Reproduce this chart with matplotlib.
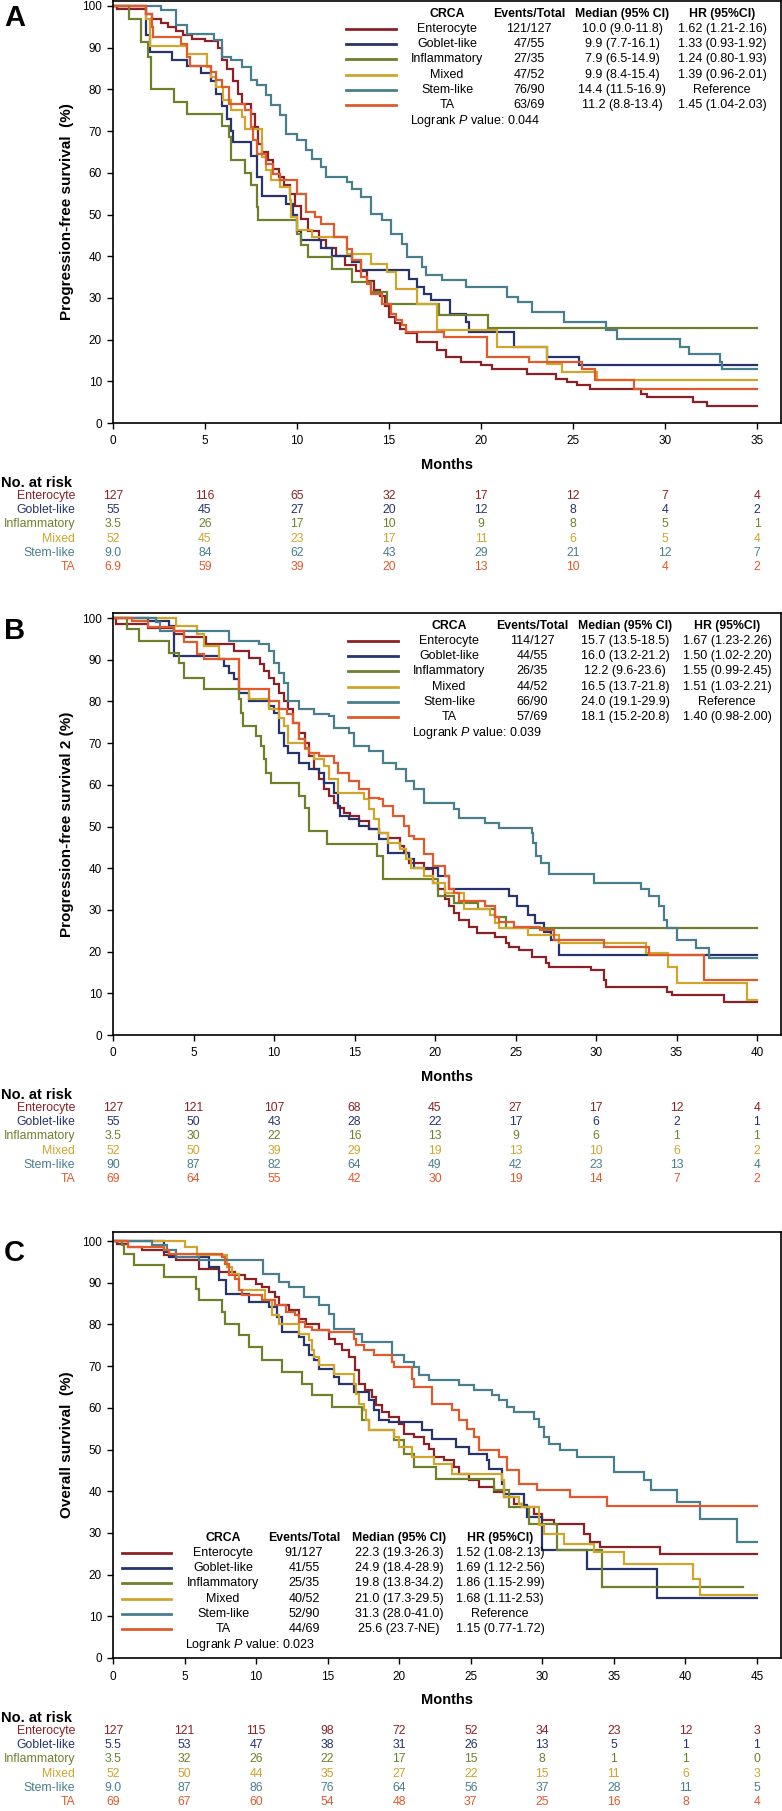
import matplotlib.pyplot as plt
from matplotlib.lines import Line2D
from matplotlib.transforms import blended_transform_factory

plt.rcParams['font.family'] = ['Liberation Sans', 'DejaVu Sans']
plt.rcParams['mathtext.fontset'] = 'custom'
plt.rcParams['mathtext.it'] = 'Liberation Sans:italic'
plt.rcParams['mathtext.rm'] = 'Liberation Sans'

# ---- data -------------------------------------------------------------
groups = ['Enterocyte', 'Goblet-like', 'Inflammatory', 'Mixed', 'Stem-like', 'TA']
colors = ['#8b2126', '#26346b', '#6e802c', '#cfa52c', '#497e8c', '#df5a2c']

# Panel A: progression-free survival, (month, % surviving) at each drop
pfs_enterocyte = [(0.2, 99.2), (1.8, 98), (2.1, 97), (2.6, 96), (3.0, 95), (3.4, 94), (3.8, 93), (4.3, 92),
                  (5.0, 91.5), (5.7, 90), (5.9, 87), (6.2, 85), (6.5, 82), (6.8, 79), (7.0, 76.5), (7.5, 74),
                  (7.7, 71), (7.9, 67), (8.1, 65), (8.4, 63), (8.7, 61), (9.0, 59), (9.3, 57), (9.6, 55),
                  (9.9, 52), (10.2, 49), (10.6, 46), (11.2, 44), (11.6, 42), (12.1, 40), (12.6, 38),
                  (13.2, 36.5), (13.8, 34), (14.2, 32), (14.5, 30.5), (14.8, 28), (15.0, 25.5), (15.3, 24),
                  (15.6, 22.5), (15.9, 21.5), (16.5, 19.5), (17.6, 17.4), (18.1, 15.8), (18.9, 14.6),
                  (20.0, 13.8), (20.6, 13.0), (22.5, 11.8), (24.1, 10.6), (24.7, 9.8), (25.2, 9.0),
                  (25.9, 8.2), (28.7, 7.0), (29.0, 6.2), (31.5, 5.0), (32.3, 4.0)]
pfs_goblet = [(1.8, 93), (2.0, 89), (3.2, 87), (4.0, 85.5), (4.8, 84), (5.3, 82), (5.6, 79), (5.9, 76),
              (6.2, 73), (6.4, 70), (6.5, 67.5), (7.5, 64), (7.8, 59), (8.1, 54.5), (9.4, 52.6), (9.8, 50),
              (10.0, 46), (10.2, 44), (11.3, 42), (11.9, 40), (13.0, 38.6), (13.5, 36.6), (16.1, 34.6),
              (16.5, 32.6), (16.9, 31), (17.3, 29.4), (18.3, 26.2), (19.2, 24.2), (19.35, 21.8),
              (21.8, 18.2), (23.6, 15.8), (25.3, 13.8)]
pfs_inflammatory = [(0.85, 97), (1.5, 91.4), (1.9, 87.8), (2.05, 80), (3.3, 77), (4.0, 74.2), (5.9, 71.2),
                    (6.3, 68.6), (6.4, 63), (7.2, 60), (7.5, 57), (7.8, 51.8), (7.9, 48.6), (10.0, 45.4),
                    (10.2, 42.6), (10.6, 39.8), (11.9, 37), (13.0, 33.8), (14.0, 31.4), (14.9, 28.6),
                    (17.7, 25.8), (20.4, 22.9)]
pfs_mixed = [(1.8, 97), (2.0, 90.5), (4.0, 88.6), (5.1, 85.4), (5.3, 83), (5.6, 80.6), (6.0, 77.4), (6.4, 75),
             (7.0, 73.4), (7.2, 70.6), (8.1, 63.8), (8.3, 60.6), (8.6, 58.2), (9.1, 56.6), (9.6, 53.4),
             (9.7, 49.4), (10.0, 46.2), (10.8, 44.6), (12.7, 40.6), (14.0, 38.2), (14.9, 36.2), (15.4, 32.2),
             (16.5, 28.6), (17.6, 22.2), (20.85, 18.2), (23.6, 14.2), (24.4, 12.2), (26.3, 10.2)]
pfs_stem = [(2.6, 99), (3.4, 95.4), (4.0, 93.4), (5.5, 91.8), (5.9, 87.8), (6.4, 87), (7.0, 85.4), (7.5, 82.2),
            (7.8, 81), (8.3, 78.6), (8.6, 76.2), (9.1, 73.8), (9.4, 69.4), (10.0, 67.8), (10.5, 65.4),
            (10.8, 63.4), (11.3, 61.4), (11.6, 59), (12.7, 57.8), (13.0, 56.2), (13.5, 54.2), (14.0, 50.2),
            (14.6, 48.6), (15.1, 45.4), (15.7, 43), (16.0, 39.8), (16.8, 37.4), (17.0, 35.4), (17.9, 34.2),
            (19.2, 32.6), (21.4, 30.2), (22.0, 29), (22.75, 26.6), (24.5, 24.2), (26.8, 22.2), (27.4, 20.2),
            (30.8, 18.2), (31.3, 16.6), (33.0, 14.6), (33.1, 13)]
pfs_ta = [(1.8, 98), (2.1, 95), (2.2, 92.6), (3.7, 91), (4.0, 87.8), (4.2, 85.6), (5.3, 84.2), (5.6, 82.2),
          (5.9, 80.6), (6.3, 76.6), (7.2, 75), (7.5, 71), (7.6, 67.8), (7.8, 64.6), (8.3, 62.2), (8.7, 59.8),
          (9.1, 58.2), (10.0, 55), (10.5, 50.6), (11.0, 49.4), (11.3, 47.8), (12.0, 44.6), (12.7, 41.8),
          (13.0, 39), (13.5, 35), (13.8, 33.4), (14.0, 31), (14.6, 28.6), (15.1, 26.2), (15.4, 24.6),
          (15.7, 23.4), (15.9, 21.8), (18.0, 20.6), (20.3, 15.8), (22.6, 14.6), (25.5, 13), (26.2, 10.2),
          (28.3, 8.2)]
pfs_ends = [35, 35, 35, 35, 35, 35]

# Panel B: progression-free survival 2
pfs2_enterocyte = [(0.2, 98.6), (2.2, 97.5), (3.8, 96.2), (4.4, 95.4), (5.8, 93.8), (7.5, 92.1), (8.45, 90.5),
                   (9.1, 89), (9.4, 87.3), (9.7, 85.7), (10.0, 84.1), (10.3, 82.1), (10.6, 80.1), (10.9, 78.1),
                   (11.2, 74.9), (11.55, 72.5), (11.9, 70.1), (12.2, 66.9), (12.5, 63.7), (12.8, 61.3),
                   (13.1, 58.9), (13.4, 57.3), (13.7, 55.7), (14.0, 54.5), (14.35, 53.3), (14.7, 52.5),
                   (15.3, 51.3), (15.9, 49.3), (16.5, 48.5), (17.1, 47.3), (17.8, 45.3), (18.1, 43.7),
                   (18.4, 41.3), (19.3, 39.7), (19.9, 36.5), (20.2, 34.9), (20.6, 32.5), (20.9, 30.9),
                   (21.2, 29.3), (21.5, 27.6), (22.1, 26), (22.6, 24.4), (23.7, 23.6), (24.4, 22), (24.6, 21.2),
                   (25.2, 20.4), (26.0, 18.8), (26.9, 17.2), (27.1, 16.4), (29.7, 15.6), (30.5, 13.2),
                   (30.6, 11.6), (34.4, 10.4), (34.7, 9.6), (37.95, 8)]
pfs2_goblet = [(2.2, 99.4), (3.5, 98.2), (3.8, 90.9), (6.6, 90.1), (6.9, 88.5), (7.2, 86.9), (7.5, 85.3),
               (7.8, 82.1), (8.45, 80.1), (9.7, 78.9), (10.0, 77.3), (10.3, 72.5), (10.6, 69.3), (10.9, 67.7),
               (11.55, 65.3), (12.2, 63.7), (12.8, 62.9), (13.1, 60.5), (13.7, 58.1), (14.0, 54.9),
               (14.1, 52.5), (14.66, 51.7), (15.3, 50.1), (15.9, 49.3), (16.5, 46.9), (17.1, 43.7),
               (18.4, 42.1), (18.7, 40.1), (20.2, 38.1), (20.9, 34.9), (24.6, 33.3), (25.1, 30.9),
               (25.8, 28.8), (26.2, 26.8), (26.8, 24.8), (27.2, 22.8), (27.7, 19.2)]
pfs2_inflammatory = [(0.85, 97.4), (1.6, 94.6), (3.5, 91.7), (4.1, 89.3), (4.4, 85.7), (5.66, 82.9),
                     (7.8, 80.5), (7.98, 77.3), (8.1, 74.1), (8.9, 71.7), (9.2, 69.3), (9.4, 66.1),
                     (9.5, 62.9), (9.8, 60.5), (11.55, 57.3), (11.9, 54.5), (12.2, 48.9), (13.3, 45.7),
                     (16.4, 42.9), (16.8, 37.3), (20.2, 33.3), (21.2, 31.7), (22.7, 30.1), (23.7, 28.4),
                     (24.4, 25.6)]
pfs2_mixed = [(3.9, 98.2), (5.2, 96.2), (5.66, 93.4), (6.6, 90.1), (7.8, 82.9), (8.45, 80.5), (9.7, 78.1),
              (10.3, 76.1), (10.6, 74.1), (10.9, 70.1), (11.9, 68.5), (12.2, 67.7), (12.5, 66.1),
              (13.1, 64.5), (13.4, 61.3), (14.0, 58.1), (15.6, 56.5), (15.9, 54.1), (16.2, 51.7),
              (16.5, 48.5), (17.1, 46.1), (17.8, 44.5), (18.2, 42.1), (18.5, 40.1), (19.3, 38.1),
              (19.9, 36.5), (20.6, 34.1), (21.8, 30.1), (23.4, 28.8), (23.7, 26.8), (24.0, 25.6),
              (25.8, 24.0), (27.7, 22.0), (33.1, 19.6), (34.5, 16.4), (35.0, 12.4), (39.35, 8.4)]
pfs2_stem = [(2.7, 99), (2.9, 96.8), (7.2, 94.6), (9.07, 93.8), (9.7, 92.1), (10.0, 89.3), (10.3, 86.9),
             (10.6, 84.5), (10.9, 80.1), (11.55, 78.1), (12.5, 76.9), (13.4, 76.5), (13.7, 73.7),
             (14.66, 72.5), (14.97, 69.3), (15.9, 68.1), (16.8, 65.3), (17.6, 63.7), (18.2, 60.9),
             (18.7, 58.9), (19.3, 55.7), (21.2, 54.1), (21.5, 52.1), (23.1, 50.9), (24.0, 49.7),
             (26.0, 48.5), (26.1, 46.1), (26.3, 42.9), (26.6, 41.3), (27.1, 38.5), (29.9, 36.5),
             (32.8, 34.9), (33.3, 33.3), (33.9, 30.9), (34.2, 27.6), (34.4, 25.6), (35.0, 22.8),
             (36.2, 20.8), (37.0, 18.4)]
pfs2_ta = [(1.2, 99.4), (2.2, 97.8), (3.8, 97), (4.4, 94.2), (5.2, 91.4), (5.66, 90.1), (7.8, 82.9),
           (9.7, 80.1), (10.3, 78.1), (10.8, 76.9), (11.2, 74.9), (11.55, 70.9), (11.9, 68.9), (12.2, 67.7),
           (12.8, 66.9), (13.7, 65.3), (14.0, 62.9), (14.66, 60.9), (15.3, 58.9), (15.9, 56.9),
           (16.5, 56.5), (16.8, 54.9), (17.4, 52.5), (18.1, 50.1), (18.4, 47.7), (18.7, 46.9),
           (19.3, 43.3), (19.9, 40.5), (20.6, 38.1), (20.87, 34.9), (21.2, 34.1), (21.5, 32.1),
           (23.1, 30.9), (23.7, 28.4), (24.0, 27.2), (24.9, 26), (26.5, 25.2), (27.4, 22.8),
           (30.5, 21.2), (33.3, 19.2), (36.7, 13.2)]
pfs2_ends = [40, 40, 40, 40, 40, 40]

# Panel C: overall survival
os_enterocyte = [(0.25, 99.4), (1.05, 98.6), (2.0, 97.8), (3.57, 96.6), (4.4, 95.4), (6.0, 93.4), (7.4, 92.6),
                 (8.5, 91.8), (9.2, 91), (10.0, 89.8), (10.4, 89), (10.9, 87.8), (11.3, 86.6), (11.6, 84.6),
                 (12.3, 83.4), (13.0, 81.4), (13.5, 80.2), (14.4, 78.6), (15.1, 76.6), (15.5, 75.4),
                 (16.0, 73.8), (16.5, 72.2), (16.9, 69), (17.2, 65.8), (17.6, 64.2), (18.1, 62.6),
                 (18.4, 60.6), (18.8, 59), (19.3, 57.8), (20.0, 56.2), (20.35, 53.8), (21.05, 53),
                 (21.75, 51.4), (22.1, 50.2), (22.45, 48.2), (23.15, 47.4), (23.85, 45.8), (24.2, 44.2),
                 (24.9, 42.6), (25.6, 41), (26.6, 39.8), (27.35, 38.6), (28.05, 37), (28.7, 36.2),
                 (29.45, 34.6), (29.97, 33), (30.85, 32.2), (32.9, 29.8), (33.3, 27.8), (34.0, 26.6),
                 (38.2, 25)]
os_goblet = [(3.57, 97.4), (3.9, 96.2), (6.7, 93.8), (7.4, 90.6), (7.9, 87.4), (9.5, 85.4), (10.9, 84.2),
             (11.45, 81.8), (11.8, 78.2), (13.0, 77), (13.35, 75), (13.7, 72.6), (14.05, 71.4), (14.4, 69.4),
             (15.45, 67.4), (15.8, 65.8), (16.85, 63.8), (17.9, 61.8), (18.25, 59.4), (18.6, 57),
             (19.3, 56.6), (21.6, 54.6), (22.3, 52.6), (24.0, 50.6), (24.9, 49), (26.1, 47.4), (26.3, 45.4),
             (27.2, 41.8), (27.35, 39.4), (28.7, 36.6), (28.9, 33.8), (30.0, 25.8), (33.1, 21.4),
             (38.0, 14.4)]
os_inflammatory = [(0.6, 99), (0.8, 97), (1.5, 94.2), (3.57, 91.4), (5.8, 88.6), (6.0, 85.8), (7.6, 83),
                   (7.8, 80.2), (8.8, 77.4), (9.5, 74.6), (10.4, 71.4), (11.8, 68.6), (13.2, 65.8),
                   (13.9, 63), (15.3, 60.2), (17.4, 57), (17.9, 54.6), (19.65, 52.2), (20.35, 49),
                   (21.05, 45.8), (22.6, 43), (26.65, 40.2), (27.7, 36.2), (29.1, 32.2), (31.0, 25.8),
                   (34.2, 17.1)]
os_mixed = [(5.0, 98.6), (5.85, 96.6), (7.96, 93.8), (8.3, 92.2), (8.8, 88.2), (10.6, 85.8), (11.1, 82.2),
            (11.6, 80.2), (13.0, 77.8), (13.7, 76.2), (13.9, 73.8), (14.05, 72.2), (14.4, 70.2),
            (15.45, 68.2), (16.85, 65.8), (17.0, 63.4), (17.2, 61), (17.55, 59.4), (17.7, 57), (17.9, 54.6),
            (19.65, 53), (20.0, 50.6), (20.9, 48.2), (22.45, 46.6), (23.7, 44.2), (27.2, 42.6),
            (27.35, 38.6), (28.4, 37), (28.6, 36.2), (29.8, 31.8), (30.1, 29.8), (31.5, 27.4),
            (33.6, 25.4), (35.7, 22.6), (40.5, 19), (41.0, 15)]
os_stem = [(2.7, 99), (3.75, 97.8), (4.4, 96.2), (6.0, 95.4), (10.5, 92.2), (11.6, 90.2), (12.3, 89),
           (13.35, 86.6), (14.4, 84.6), (15.1, 82.6), (15.45, 79), (16.85, 77.8), (17.4, 75.8), (19.5, 72.6),
           (20.35, 71), (21.05, 69.8), (21.4, 67.8), (22.1, 66.6), (24.2, 65.4), (25.2, 64.2), (26.5, 63),
           (27.0, 61.8), (27.5, 60.2), (28.05, 59), (29.45, 57.4), (29.8, 55.4), (30.1, 53), (30.5, 51.4),
           (31.2, 49.8), (32.4, 48.2), (35.0, 44.6), (37.1, 42.6), (37.6, 40.2), (39.4, 37.4), (41.0, 33.4),
           (43.6, 27.8)]
os_ta = [(1.05, 98.6), (3.57, 97.8), (3.9, 97), (7.6, 96.2), (7.8, 94.6), (8.1, 91.8), (8.5, 91), (8.8, 88.2),
         (9.0, 87), (10.4, 85.8), (11.3, 84.6), (12.1, 83), (12.7, 82.2), (13.0, 80.6), (13.4, 79.4),
         (13.9, 78.6), (15.1, 78.2), (16.85, 76.6), (17.0, 75), (17.55, 73.8), (18.25, 72.6), (19.5, 71),
         (19.65, 69.8), (20.9, 67), (21.05, 65), (22.3, 61), (23.7, 59.4), (24.2, 57), (24.75, 55),
         (25.24, 53), (25.6, 49.8), (27.0, 48.2), (27.5, 45), (28.4, 41.8), (29.6, 40.2), (31.9, 38.6),
         (34.5, 36.4)]
os_ends = [45, 45, 44, 45, 45, 45]

# numbers at risk (as printed)
pfs_risk = [[127, 116, 65, 32, 17, 12, 7, 4],
            [55, 45, 27, 20, 12, 8, 4, 2],
            ['3.5', 26, 17, 10, 9, 8, 5, 1],
            [52, 45, 23, 17, 11, 6, 5, 4],
            ['9.0', 84, 62, 43, 29, 21, 12, 7],
            ['6.9', 59, 39, 20, 13, 10, 4, 2]]
pfs2_risk = [[127, 121, 107, 68, 45, 27, 17, 12, 4],
             [55, 50, 43, 28, 22, 17, 6, 2, 1],
             ['3.5', 30, 22, 16, 13, 9, 6, 1, 1],
             [52, 50, 39, 29, 19, 13, 10, 6, 2],
             [90, 87, 82, 64, 49, 42, 23, 13, 4],
             [69, 64, 55, 42, 30, 19, 14, 7, 2]]
os_risk = [[127, 121, 115, 98, 72, 52, 34, 23, 12, 3],
           ['5.5', 53, 47, 38, 31, 26, 13, 5, 1, 1],
           ['3.5', 32, 26, 22, 17, 15, 8, 1, 1, 0],
           [52, 50, 44, 35, 27, 22, 15, 11, 6, 3],
           ['9.0', 87, 86, 76, 64, 56, 37, 28, 11, 5],
           [69, 67, 60, 54, 48, 37, 25, 16, 8, 4]]

# legend tables
pfs_events = ['121/127', '47/55', '27/35', '47/52', '76/90', '63/69']
pfs_median = ['10.0 (9.0-11.8)', '9.9 (7.7-16.1)', '7.9 (6.5-14.9)', '9.9 (8.4-15.4)', '14.4 (11.5-16.9)', '11.2 (8.8-13.4)']
pfs_hr = ['1.62 (1.21-2.16)', '1.33 (0.93-1.92)', '1.24 (0.80-1.93)', '1.39 (0.96-2.01)', 'Reference', '1.45 (1.04-2.03)']
pfs2_events = ['114/127', '44/55', '26/35', '44/52', '66/90', '57/69']
pfs2_median = ['15.7 (13.5-18.5)', '16.0 (13.2-21.2)', '12.2 (9.6-23.6)', '16.5 (13.7-21.8)', '24.0 (19.1-29.9)', '18.1 (15.2-20.8)']
pfs2_hr = ['1.67 (1.23-2.26)', '1.50 (1.02-2.20)', '1.55 (0.99-2.45)', '1.51 (1.03-2.21)', 'Reference', '1.40 (0.98-2.00)']
os_events = ['91/127', '41/55', '25/35', '40/52', '52/90', '44/69']
os_median = ['22.3 (19.3-26.3)', '24.9 (18.4-28.9)', '19.8 (13.8-34.2)', '21.0 (17.3-29.5)', '31.3 (28.0-41.0)', '25.6 (23.7-NE)']
os_hr = ['1.52 (1.08-2.13)', '1.69 (1.12-2.56)', '1.86 (1.15-2.99)', '1.68 (1.11-2.53)', 'Reference', '1.15 (0.77-1.72)']
headers = ['CRCA', 'Events/Total', 'Median (95% CI)', 'HR (95%CI)']

# ---- layout -----------------------------------------------------------
W, H = 782, 1811
fig = plt.figure(figsize=(W / 100, H / 100), dpi=100)


def fx(x):
    return x / W


def fy(y):
    return 1 - y / H


panels = [
    dict(letter='A', letter_y=18, top=1, bottom=423, tmax=35,
         curves=[pfs_enterocyte, pfs_goblet, pfs_inflammatory, pfs_mixed, pfs_stem, pfs_ta], ends=pfs_ends,
         ylabel='Progression-free survival  (%)', risk=pfs_risk,
         events=pfs_events, median=pfs_median, hr=pfs_hr, p='0.044',
         leg_x=[346, 396, 447, 529, 622, 722, 410], leg_y=29),
    dict(letter='B', letter_y=631, top=613, bottom=1035, tmax=40,
         curves=[pfs2_enterocyte, pfs2_goblet, pfs2_inflammatory, pfs2_mixed, pfs2_stem, pfs2_ta], ends=pfs2_ends,
         ylabel='Progression-free survival 2 (%)', risk=pfs2_risk,
         events=pfs2_events, median=pfs2_median, hr=pfs2_hr, p='0.039',
         leg_x=[348, 398, 449, 532, 625, 727, 412], leg_y=641),
    dict(letter='C', letter_y=1253, top=1232, bottom=1658, tmax=45,
         curves=[os_enterocyte, os_goblet, os_inflammatory, os_mixed, os_stem, os_ta], ends=os_ends,
         ylabel='Overall survival  (%)', risk=os_risk,
         events=os_events, median=os_median, hr=os_hr, p='0.023',
         leg_x=[122, 171, 223, 304, 399, 500, 185], leg_y=1553),
]

AX_L, AX_R, X_END = 113, 781, 757
ROW = 15.2

for pn in panels:
    top, bottom = pn['top'], pn['bottom']
    ax = fig.add_axes([fx(AX_L), fy(bottom), (AX_R - AX_L) / W, (bottom - top) / H])
    for curve, end, col in zip(pn['curves'], pn['ends'], colors):
        t = [0] + [c[0] for c in curve] + [end]
        s = [100] + [c[1] for c in curve] + [curve[-1][1]]
        ax.step(t, s, where='post', color=col, lw=1.6, solid_joinstyle='miter')
    xmax = pn['tmax'] * (AX_R - AX_L) / (X_END - AX_L)
    ax.set_xlim(0, xmax)
    ax.set_ylim(0, 100 * (bottom - top) / 417)
    ax.set_xticks(range(0, pn['tmax'] + 1, 5))
    ax.set_yticks(range(0, 101, 10))
    ax.tick_params(axis='both', direction='out', length=4, width=1, labelsize=8.5, color='black')
    ax.tick_params(axis='x', pad=5)
    ax.tick_params(axis='y', pad=4)
    for sp in ax.spines.values():
        sp.set_linewidth(1.2)

    fig.text(fx(4), fy(pn['letter_y']), pn['letter'], fontsize=21, fontweight='bold', ha='left', va='center')
    fig.text(fx(67), fy((top + bottom) / 2), pn['ylabel'], rotation=90, fontsize=11, fontweight='bold',
             ha='center', va='center')
    fig.text(fx(447), fy(bottom + 42), 'Months', fontsize=10.5, fontweight='bold', ha='center', va='center')
    fig.text(fx(1), fy(bottom + 60), 'No. at risk', fontsize=10.5, fontweight='bold', ha='left', va='center')

    # numbers at risk
    tr = blended_transform_factory(ax.transData, fig.transFigure)
    for i, (name, row, col) in enumerate(zip(groups, pn['risk'], colors)):
        yy = fy(bottom + 73 + 14.2 * i)
        fig.text(fx(75), yy, name, color=col, fontsize=8.8, ha='right', va='center')
        for tk, val in zip(range(0, pn['tmax'] + 1, 5), row):
            ax.text(tk, yy, str(val), transform=tr, color=col, fontsize=8.8, ha='center', va='center',
                    clip_on=False)

    # legend table
    lx = pn['leg_x']
    ly = pn['leg_y']
    for x, h in zip(lx[2:6], headers):
        fig.text(fx(x), fy(ly - ROW), h, fontsize=8.8, fontweight='bold', ha='center', va='center')
    for i, name in enumerate(groups):
        yy = fy(ly + ROW * i)
        fig.add_artist(Line2D([fx(lx[0]), fx(lx[1])], [yy, yy], color=colors[i], lw=2.0,
                              transform=fig.transFigure))
        fig.text(fx(lx[2]), yy, name, fontsize=9, ha='center', va='center')
        fig.text(fx(lx[3]), yy, pn['events'][i], fontsize=9, ha='center', va='center')
        fig.text(fx(lx[4]), yy, pn['median'][i], fontsize=9, ha='center', va='center')
        fig.text(fx(lx[5]), yy, pn['hr'][i], fontsize=9, ha='center', va='center')
    fig.text(fx(lx[6]), fy(ly + ROW * 6 + 1), 'Logrank $P$ value: ' + pn['p'], fontsize=9, ha='left',
             va='center')

fig.savefig('out.png', dpi=100)
